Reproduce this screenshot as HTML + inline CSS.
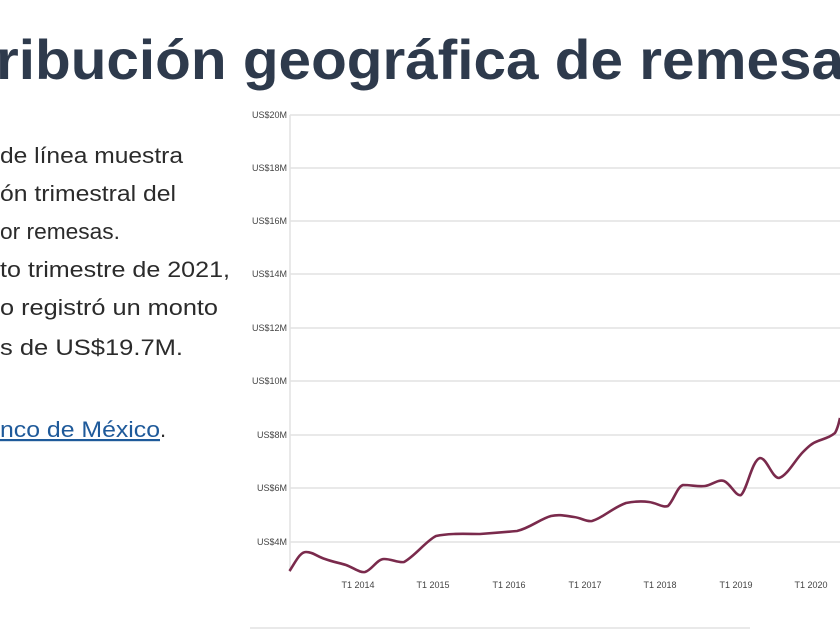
<!DOCTYPE html>
<html><head><meta charset="utf-8"><style>
html,body{margin:0;padding:0;background:#fff;width:840px;height:630px;overflow:hidden}
svg{display:block}
</style></head><body>
<svg width="840" height="630" viewBox="0 0 840 630" xmlns="http://www.w3.org/2000/svg" font-family="Liberation Sans, sans-serif">
<text x="-4" y="79" font-size="56" font-weight="bold" fill="#2e3a4c" textLength="848" lengthAdjust="spacingAndGlyphs">ribución geográfica de remesa</text>
<g font-size="22" fill="#2b2b2b">
<text x="0" y="163" textLength="183" lengthAdjust="spacingAndGlyphs">de línea muestra</text>
<text x="0" y="201" textLength="176" lengthAdjust="spacingAndGlyphs">ón trimestral del</text>
<text x="0" y="239" textLength="120" lengthAdjust="spacingAndGlyphs">or remesas.</text>
<text x="0" y="277" textLength="230" lengthAdjust="spacingAndGlyphs">to trimestre de 2021,</text>
<text x="0" y="315" textLength="218" lengthAdjust="spacingAndGlyphs">o registró un monto</text>
<text x="0" y="355" textLength="183" lengthAdjust="spacingAndGlyphs">s de US$19.7M.</text>
<text x="0" y="437" fill="#1f5a9a" text-decoration="underline" textLength="160" lengthAdjust="spacingAndGlyphs">nco de México</text>
<text x="160" y="437">.</text>
</g>
<line x1="0" y1="440" x2="160" y2="440" stroke="#1f5a9a" stroke-width="1.5"/>
<g stroke="#e2e2e2" stroke-width="1.5">
<line x1="290" y1="115" x2="840" y2="115"/>
<line x1="290" y1="168" x2="840" y2="168"/>
<line x1="290" y1="221" x2="840" y2="221"/>
<line x1="290" y1="274" x2="840" y2="274"/>
<line x1="290" y1="328" x2="840" y2="328"/>
<line x1="290" y1="381" x2="840" y2="381"/>
<line x1="290" y1="435" x2="840" y2="435"/>
<line x1="290" y1="488" x2="840" y2="488"/>
<line x1="290" y1="542" x2="840" y2="542"/>
<line x1="290" y1="115" x2="290" y2="572"/>
<line x1="250" y1="628" x2="750" y2="628"/>
</g>
<g font-size="9" fill="#444" text-anchor="end">
<text x="287" y="118">US$20M</text>
<text x="287" y="171">US$18M</text>
<text x="287" y="224">US$16M</text>
<text x="287" y="277">US$14M</text>
<text x="287" y="331">US$12M</text>
<text x="287" y="384">US$10M</text>
<text x="287" y="438">US$8M</text>
<text x="287" y="491">US$6M</text>
<text x="287" y="545">US$4M</text>
</g>
<g font-size="9" fill="#444" text-anchor="middle">
<text x="358" y="588">T1 2014</text>
<text x="433" y="588">T1 2015</text>
<text x="509" y="588">T1 2016</text>
<text x="585" y="588">T1 2017</text>
<text x="660" y="588">T1 2018</text>
<text x="736" y="588">T1 2019</text>
<text x="811" y="588">T1 2020</text>
</g>
<path d="M289.5,571 C296,561 300,552 306,552 C313,552 318,557 325,559 C333,562 340,563 346,565 C354,568 360,573 365,572 C372,570 377,559 384,559 C392,559 398,563 404,562 C415,556 426,541 436,536 C450,533 466,534 480,534 C494,533 506,532 517,531 C530,528 540,519 551,516 C560,514 566,516 574,517 C582,518 586,522 592,521 C603,518 612,508 626,503 C636,501 642,501 649,502 C657,503 663,508 668,506 C674,500 677,487 683,485 C692,485 698,487 705,486 C712,485 718,479 724,481 C731,484 736,497 741,495 C747,490 752,460 760,458 C767,458 772,478 779,478 C787,476 795,460 803,452 C808,447 812,443 818,441 C826,438 830,437 835,433 C838,428 839,422 840,418" fill="none" stroke="#7a2a4c" stroke-width="2.6" stroke-linejoin="round"/>
</svg>
</body></html>
